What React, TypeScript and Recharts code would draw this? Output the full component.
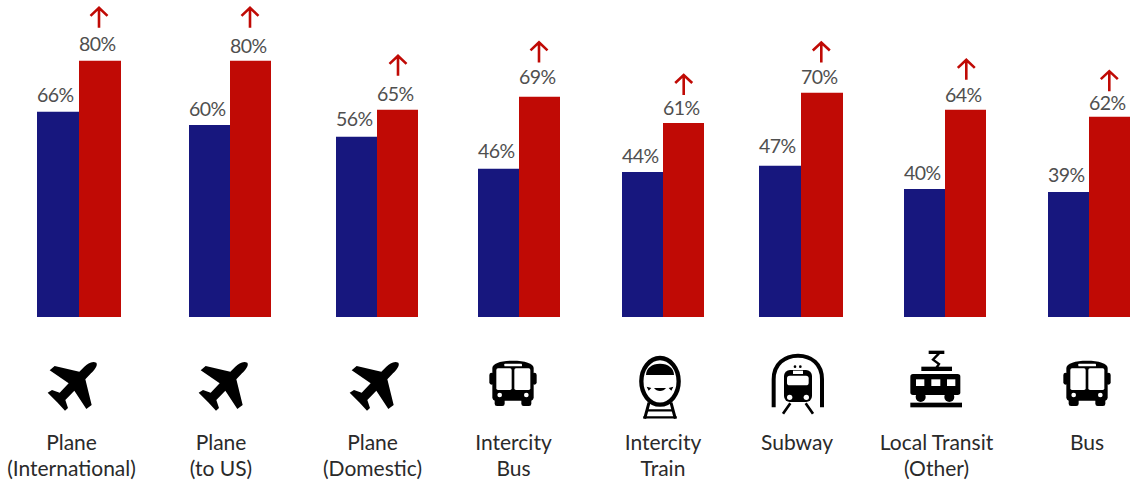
import React from 'react';
import { BarChart, Bar, XAxis, YAxis, LabelList } from 'recharts';

// ---- data ----
const categories = ['Plane (International)', 'Plane (to US)', 'Plane (Domestic)', 'Intercity Bus', 'Intercity Train', 'Subway', 'Local Transit (Other)', 'Bus'];
const firstLines = ['Plane', 'Plane', 'Plane', 'Intercity', 'Intercity', 'Subway', 'Local Transit', 'Bus'];
const secondLines = ['(International)', '(to US)', '(Domestic)', 'Bus', 'Train', '', '(Other)', ''];
const iconKinds = ['plane', 'plane', 'plane', 'bus', 'train', 'subway', 'tram', 'bus'];
const beforeValues = [64.1, 60, 56.3, 46.3, 45.3, 47.2, 40, 39];
const afterValues = [80, 80, 64.7, 68.8, 60.6, 70, 64.7, 62.5];
const beforeLabels = ['66%', '60%', '56%', '46%', '44%', '47%', '40%', '39%'];
const afterLabels = ['80%', '80%', '65%', '69%', '61%', '70%', '64%', '62%'];

// ---- layout, kept apart from the data ----
const W = 1131;
const H = 482;
const PANEL_PAD = 50;
const PANEL_W = 183;
const AXIS_H = 165;
const panelLeft = [37, 189, 336, 478, 622, 759, 904, 1048];
const bandWidth = [83, 82, 82, 82, 82, 83, 81, 82];
const iconNudge = [-6.5, -7, -3, -6, -3, -2.5, -8.5, -2];
const textNudge = [-7, -9, -4.5, -5.5, 0, -3.5, -8, -2];
const beforeTextGap = [9.3, 9.3, 10.3, 10.3, 9.3, 12.7, 9, 9.7];
const afterTextGap = [10.3, 8.3, 9.3, 12.7, 8.3, 8.7, 7.7, 6.7];
const arrowGap = [33, 33, 34, 34.3, 28, 30.3, 30, 25.7];
const arrowInset = [20, 20, 21, 20, 20.7, 20.3, 21.3, 20.3];
const FONT = 'Lato, "Open Sans", sans-serif';
const BLUE = '#17177e';
const RED = '#c00a05';

const Plane = () => (
  <path
    fill="#000"
    transform="translate(-215,0)"
    d="M288 68 C276 62 262 70 252 80 L237 95 L163 78 L148 91 L205 130 L178 158 L155 150 L142 158 L172 188 L194 212 L203 204 L195 180 L222 152 L258 207 L274 195 L255 118 L272 100 C284 88 293 76 288 68 Z"
  />
);

const BusIcon = () => (
  <g transform="translate(-130,0)">
    <rect x={59} y={98} width={14} height={36} rx={7} fill="#000" />
    <rect x={187} y={98} width={14} height={36} rx={7} fill="#000" />
    <path d="M68 84 C68 70 95 62 130 62 C165 62 192 70 192 84 L192 172 C192 178 188 182 184 182 L76 182 C72 182 68 178 68 172 Z" fill="#000" />
    <rect x={75} y={172} width={30} height={26} rx={7} fill="#000" />
    <rect x={155} y={172} width={30} height={26} rx={7} fill="#000" />
    <rect x={104} y={71} width={53} height={8} rx={2} fill="#fff" />
    <rect x={80} y={85} width={46} height={65} rx={5} fill="#fff" />
    <rect x={134} y={85} width={48} height={65} rx={5} fill="#fff" />
    <circle cx={90} cy={165} r={7} fill="#fff" />
    <circle cx={170} cy={165} r={7} fill="#fff" />
  </g>
);

const TrainIcon = () => (
  <g transform="translate(-570,0)">
    <path d="M537 188 L524 236 M603 188 L616 236" stroke="#000" strokeWidth={9} fill="none" />
    <path d="M530 211 L610 211 M520 232 L620 232" stroke="#000" strokeWidth={7} fill="none" />
    <ellipse cx={570} cy={124} rx={56} ry={70} fill="#fff" stroke="#000" strokeWidth={13} />
    <path d="M528 105 C528 85 545 71 570 71 C595 71 612 85 612 105 Z" fill="#000" />
    <path d="M552 144 C560 156 580 156 588 144 Z" fill="#000" />
    <path d="M530 140 L544 144 L536 152 Z M610 140 L596 144 L604 152 Z" fill="#000" />
  </g>
);

const SubwayIcon = () => (
  <g transform="translate(-175,0)">
    <path d="M102 202 L102 118 C102 72 135 47 175 47 C215 47 247 72 247 118 L247 202" stroke="#000" strokeWidth={12} fill="none" />
    <circle cx={166} cy={80} r={4} fill="#000" />
    <circle cx={182} cy={80} r={4} fill="#000" />
    <path d="M152 190 L130 221 M198 190 L220 221" stroke="#000" strokeWidth={8} fill="none" />
    <rect x={133} y={90} width={84} height={96} rx={18} fill="#000" />
    <rect x={160} y={92} width={30} height={10} fill="#fff" />
    <rect x={142} y={107} width={65} height={29} rx={8} fill="#fff" />
    <circle cx={150} cy={172} r={8} fill="#fff" />
    <circle cx={200} cy={172} r={8} fill="#fff" />
  </g>
);

const TramIcon = () => (
  <g transform="translate(-587,0)">
    <rect x={565} y={32} width={47} height={10} fill="#000" />
    <path d="M596 40 L578 59 L596 72 L588 84" stroke="#000" strokeWidth={7} fill="none" />
    <rect x={543} y={80} width={92} height={13} fill="#000" />
    <rect x={510} y={102} width={150} height={63} rx={8} fill="#000" />
    <circle cx={541} cy={171} r={15} fill="#000" />
    <circle cx={627} cy={171} r={15} fill="#000" />
    <rect x={527} y={118} width={25} height={20} fill="#fff" />
    <rect x={573} y={118} width={27} height={20} fill="#fff" />
    <rect x={620} y={118} width={25} height={20} fill="#fff" />
    <rect x={510} y={188} width={155} height={14} fill="#000" />
  </g>
);

const icons: Record<string, React.FC> = { plane: Plane, bus: BusIcon, train: TrainIcon, subway: SubwayIcon, tram: TramIcon };

const makeTick = (i: number) => (props: any) => {
  const { x, y } = props;
  const Icon = icons[iconKinds[i]];
  return (
    <g>
      <g transform={`translate(${x + iconNudge[i]},${y + 23}) scale(${1 / 3})`}>
        <Icon />
      </g>
      <text x={x + textNudge[i]} y={y + 133} textAnchor="middle" fontFamily={FONT} fontSize={21} fontWeight={400} fill="#2a2a2a">
        {firstLines[i]}
      </text>
      {secondLines[i] ? (
        <text x={x + textNudge[i]} y={y + 159} textAnchor="middle" fontFamily={FONT} fontSize={21} fontWeight={400} fill="#2a2a2a">
          {secondLines[i]}
        </text>
      ) : null}
    </g>
  );
};

const valueLabel = (i: number, withArrow: boolean) => (props: any) => {
  const { x, y, value } = props;
  const gap = withArrow ? afterTextGap[i] : beforeTextGap[i];
  const ax = x + arrowInset[i];
  const tail = y - arrowGap[i];
  const tip = tail - 21;
  return (
    <g>
      <text x={x} y={y - gap} textAnchor="start" fontFamily={FONT} fontSize={19.5} letterSpacing={-0.5} fill="#4f4f4f">
        {value}
      </text>
      {withArrow ? (
        <path
          d={`M${ax} ${tail} L${ax} ${tip + 1} M${ax - 8.5} ${tip + 9} L${ax} ${tip + 1} L${ax + 8.5} ${tip + 9}`}
          stroke={RED}
          strokeWidth={2.6}
          fill="none"
        />
      ) : null}
    </g>
  );
};

const Panel = ({ i }: { i: number }) => {
  const row = [
    {
      category: categories[i],
      before: beforeValues[i],
      after: afterValues[i],
      beforeLabel: beforeLabels[i],
      afterLabel: afterLabels[i],
    },
  ];
  return (
    <div style={{ position: 'absolute', left: panelLeft[i] - PANEL_PAD, top: 0 }}>
      <BarChart
        width={PANEL_W}
        height={H}
        data={row}
        margin={{ top: 0, bottom: 0, left: PANEL_PAD, right: PANEL_W - PANEL_PAD - bandWidth[i] }}
        barCategoryGap={0}
        barGap={0}
        style={{ overflow: 'visible' }}
      >
        <XAxis dataKey="category" height={AXIS_H} axisLine={false} tickLine={false} tickSize={0} tickMargin={0} interval={0} tick={makeTick(i)} />
        <YAxis hide domain={[0, 99]} />
        <Bar dataKey="before" fill={BLUE} isAnimationActive={false}>
          <LabelList dataKey="beforeLabel" content={valueLabel(i, false)} />
        </Bar>
        <Bar dataKey="after" fill={RED} isAnimationActive={false}>
          <LabelList dataKey="afterLabel" content={valueLabel(i, true)} />
        </Bar>
      </BarChart>
    </div>
  );
};

export default function App() {
  return (
    <div style={{ position: 'absolute', left: 0, top: 0, width: W, height: H, overflow: 'hidden', background: '#fff' }}>
      {categories.map((_, i) => (
        <Panel key={categories[i]} i={i} />
      ))}
    </div>
  );
}
